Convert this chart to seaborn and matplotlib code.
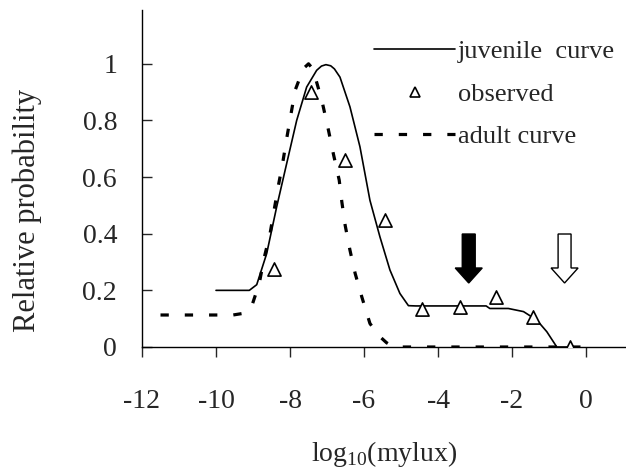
import matplotlib
matplotlib.use("Agg")
import matplotlib.pyplot as plt
from matplotlib.lines import Line2D
import seaborn as sns
import pandas as pd

# ---- data ----
juv_x = [-10.0, -9.1, -8.9, -8.63, -8.36, -8.09, -7.82, -7.55, -7.28, -7.15, -7.03, -6.9, -6.8, -6.65,
         -6.38, -6.11, -5.84, -5.57, -5.30, -5.03, -4.80, -4.6, -2.7, -2.6, -2.1, -1.69,
         -1.33, -1.06, -0.79, -0.2]
juv_y = [0.20, 0.20, 0.22, 0.33, 0.495, 0.648, 0.80, 0.918, 0.977, 0.992, 0.997, 0.993, 0.982, 0.953,
         0.848, 0.707, 0.518, 0.389, 0.272, 0.189, 0.146, 0.145, 0.145, 0.136, 0.136, 0.125,
         0.095, 0.054, 0.0, 0.0]

adult_x = [-11.5, -9.54, -9.3, -9.04, -8.83, -8.70, -8.54, -8.32, -8.20, -8.09, -7.98, -7.86,
           -7.64, -7.5, -7.4, -7.32, -7.14, -6.96, -6.83, -6.67, -6.60, -6.51, -6.38, -6.24,
           -6.06, -5.84, -5.6, -5.39, -5.2, -0.15]
adult_y = [0.113, 0.113, 0.118, 0.142, 0.225, 0.314, 0.40, 0.566, 0.648, 0.736, 0.818, 0.907,
           0.983, 1.0, 0.985, 0.953, 0.871, 0.765, 0.683, 0.589, 0.513, 0.43, 0.342, 0.26,
           0.177, 0.083, 0.04, 0.015, 0.0, 0.0]

obs_x = [-8.42, -7.44, -6.52, -5.44, -4.44, -3.41, -2.43, -1.42, -0.43]
obs_y = [0.274, 0.90, 0.662, 0.45, 0.133, 0.142, 0.177, 0.107, 0.0]

arrow_x = [-3.17, -0.58]          # filled, open
arrow_top, arrow_tip = 0.399, 0.226

x_ticks = [-12, -10, -8, -6, -4, -2, 0]
x_ticklabels = ["-12", "-10", "-8", "-6", "-4", "-2", "0"]
y_ticks = [0, 0.2, 0.4, 0.6, 0.8, 1.0]
y_ticklabels = ["0", "0.2", "0.4", "0.6", "0.8", "1"]

# ---- style ----
sns.set_style("ticks")
plt.rcParams["font.family"] = ["Liberation Serif", "DejaVu Serif"]
plt.rcParams["mathtext.fontset"] = "custom"
plt.rcParams["mathtext.rm"] = "Liberation Serif"
plt.rcParams["axes.unicode_minus"] = False

fig = plt.figure(figsize=(6.26, 4.71), dpi=100)
ax = fig.add_axes([142 / 626, 124 / 471, 484 / 626, 337 / 471])

juv = pd.DataFrame({"x": juv_x, "y": juv_y})
adl = pd.DataFrame({"x": adult_x, "y": adult_y})
obs = pd.DataFrame({"x": obs_x, "y": obs_y})

sns.lineplot(data=juv, x="x", y="y", ax=ax, color="black", lw=1.2, sort=False)
sns.lineplot(data=adl, x="x", y="y", ax=ax, color="black", lw=2.3, sort=False)
ax.lines[-1].set_dashes((2.6, 5.0))
sns.scatterplot(data=obs, x="x", y="y", ax=ax, marker="^", s=90,
                facecolor="white", edgecolor="black", linewidth=1.2, zorder=5)

# arrows
for i, ax_x in enumerate(arrow_x):
    fc = "black" if i == 0 else "white"
    ax.arrow(ax_x, arrow_top, 0, arrow_tip - arrow_top, width=0.35, head_width=0.73,
             head_length=0.053, length_includes_head=True, fc=fc, ec="black", lw=1.0,
             zorder=6)

ax.set_xlim(-12.0, 1.08)
ax.set_ylim(0, 1.19)
ax.set_xticks(x_ticks)
ax.set_xticklabels(x_ticklabels)
ax.set_yticks(y_ticks)
ax.set_yticklabels(y_ticklabels)
ax.tick_params(axis="x", direction="out", length=7, width=1, pad=23, labelsize=20)
ax.tick_params(axis="y", direction="in", length=7, width=1, pad=18, labelsize=20)
for s in ["top", "right"]:
    ax.spines[s].set_visible(False)
for s in ["left", "bottom"]:
    ax.spines[s].set_linewidth(1.0)
    ax.spines[s].set_color("black")

ax.set_xlabel(r"log$_{10}$(mylux)", fontsize=20)
ax.set_ylabel("Relative probability", fontsize=22)
ax.xaxis.set_label_coords(0.5, -0.272)
ax.yaxis.set_label_coords(-0.207, 0.404)

handles = [
    Line2D([], [], color="black", lw=1.2),
    Line2D([], [], color="black", marker="^", ls="none", ms=7, mfc="white", mew=1.2),
    Line2D([], [], color="black", lw=2.3, dashes=(2.6, 5.0)),
]
labels = ["juvenile  curve", "observed", "adult curve"]
leg = ax.legend(handles, labels, loc="upper left", bbox_to_anchor=(374 / 626, 1 - 40 / 471),
                bbox_transform=fig.transFigure, frameon=False, fontsize=19,
                handlelength=3.07, handletextpad=0.12, labelspacing=0.72,
                borderpad=0, borderaxespad=0)

fig.savefig("out.png", dpi=100)
